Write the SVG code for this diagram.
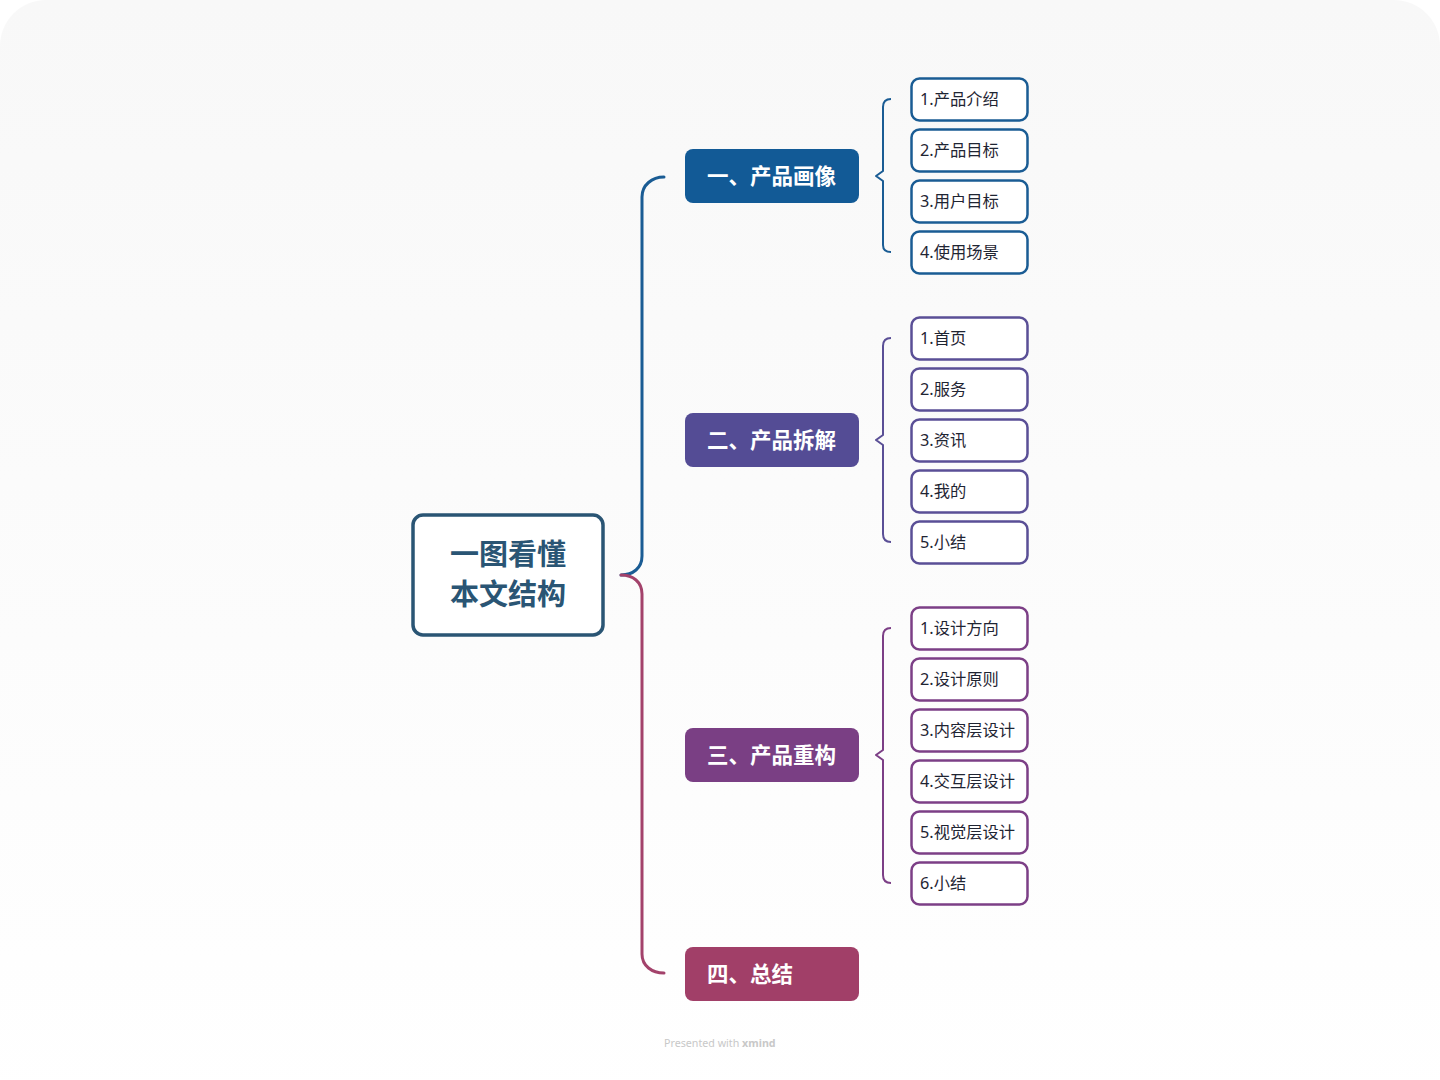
<svg xmlns="http://www.w3.org/2000/svg" width="1440" height="1080" viewBox="0 0 1440 1080">
<defs>
<linearGradient id="bg" x1="0" y1="0" x2="0" y2="1">
<stop offset="0" stop-color="#f8f8f8"/>
<stop offset="1" stop-color="#ffffff"/>
</linearGradient>
<style>
.cjk{font-family:"Noto Sans","Noto Sans CJK SC",sans-serif}
.root{fill:#ffffff;stroke:#2a5574;stroke-width:3.5}
.roott{font-size:29px;font-weight:700;fill:#2a5574}
.br{stroke:none}
.brt{font-size:21.5px;font-weight:700;fill:#ffffff}
.leaf{fill:#ffffff;stroke-width:2.5}
.leaft{font-size:16.3px;fill:#1f2533}
.con{fill:none;stroke-width:3;stroke-linecap:round}
.brk{fill:none;stroke-width:2;stroke-linejoin:round}
</style>
</defs>
<rect x="0" y="0" width="1440" height="1080" fill="#ffffff"/>
<rect x="0" y="0" width="1440" height="1120" rx="46" fill="url(#bg)"/>

<g id="connectors">
<path class="con" stroke="#1a5c94" d="M621,575 C633,575 642,568 642,556 L642,197 C642,185 652,177 664,177"/>
<path class="con" stroke="#a3426b" d="M621,575 C633,575 642,582 642,594 L642,954 C642,966 652,973 664,973"/>
<path class="brk" stroke="#1a5c94" d="M891,99 C886,99 883,102 883,107 L883,171 L876,176 L883,181 L883,245 C883,250 886,252 891,252"/>
<path class="brk" stroke="#5a4f96" d="M891,338 C886,338 883,341 883,346 L883,435 L876,440 L883,445 L883,534 C883,539 886,542 891,542"/>
<path class="brk" stroke="#7c3f86" d="M891,628 C886,628 883,631 883,636 L883,750 L876,755 L883,760 L883,875 C883,880 886,883 891,883"/>
</g>

<g id="root">
<rect class="root" x="413" y="515" width="190" height="120" rx="10"/>
<text class="cjk roott" x="508" y="565" text-anchor="middle">一图看懂</text>
<text class="cjk roott" x="508" y="605" text-anchor="middle">本文结构</text>
</g>

<g id="b1"><rect class="br" x="685" y="149" width="174" height="54" rx="8" fill="#125a96"/><text class="cjk brt" x="707" y="184">一、产品画像</text></g>
<g id="b2"><rect class="br" x="685" y="413" width="174" height="54" rx="8" fill="#544c95"/><text class="cjk brt" x="707" y="448">二、产品拆解</text></g>
<g id="b3"><rect class="br" x="685" y="728" width="174" height="54" rx="8" fill="#7a3f84"/><text class="cjk brt" x="707" y="763">三、产品重构</text></g>
<g id="b4"><rect class="br" x="685" y="947" width="174" height="54" rx="8" fill="#a13f68"/><text class="cjk brt" x="707" y="982">四、总结</text></g>

<g id="l1-1"><rect class="leaf" stroke="#1a5c94" x="911.5" y="78.5" width="116" height="42" rx="8"/><text class="cjk leaft" x="920" y="105">1.产品介绍</text></g>
<g id="l1-2"><rect class="leaf" stroke="#1a5c94" x="911.5" y="129.5" width="116" height="42" rx="8"/><text class="cjk leaft" x="920" y="156">2.产品目标</text></g>
<g id="l1-3"><rect class="leaf" stroke="#1a5c94" x="911.5" y="180.5" width="116" height="42" rx="8"/><text class="cjk leaft" x="920" y="207">3.用户目标</text></g>
<g id="l1-4"><rect class="leaf" stroke="#1a5c94" x="911.5" y="231.5" width="116" height="42" rx="8"/><text class="cjk leaft" x="920" y="258">4.使用场景</text></g>

<g id="l2-1"><rect class="leaf" stroke="#5a4f96" x="911.5" y="317.5" width="116" height="42" rx="8"/><text class="cjk leaft" x="920" y="344">1.首页</text></g>
<g id="l2-2"><rect class="leaf" stroke="#5a4f96" x="911.5" y="368.5" width="116" height="42" rx="8"/><text class="cjk leaft" x="920" y="395">2.服务</text></g>
<g id="l2-3"><rect class="leaf" stroke="#5a4f96" x="911.5" y="419.5" width="116" height="42" rx="8"/><text class="cjk leaft" x="920" y="446">3.资讯</text></g>
<g id="l2-4"><rect class="leaf" stroke="#5a4f96" x="911.5" y="470.5" width="116" height="42" rx="8"/><text class="cjk leaft" x="920" y="497">4.我的</text></g>
<g id="l2-5"><rect class="leaf" stroke="#5a4f96" x="911.5" y="521.5" width="116" height="42" rx="8"/><text class="cjk leaft" x="920" y="548">5.小结</text></g>

<g id="l3-1"><rect class="leaf" stroke="#7c3f86" x="911.5" y="607.5" width="116" height="42" rx="8"/><text class="cjk leaft" x="920" y="634">1.设计方向</text></g>
<g id="l3-2"><rect class="leaf" stroke="#7c3f86" x="911.5" y="658.5" width="116" height="42" rx="8"/><text class="cjk leaft" x="920" y="685">2.设计原则</text></g>
<g id="l3-3"><rect class="leaf" stroke="#7c3f86" x="911.5" y="709.5" width="116" height="42" rx="8"/><text class="cjk leaft" x="920" y="736">3.内容层设计</text></g>
<g id="l3-4"><rect class="leaf" stroke="#7c3f86" x="911.5" y="760.5" width="116" height="42" rx="8"/><text class="cjk leaft" x="920" y="787">4.交互层设计</text></g>
<g id="l3-5"><rect class="leaf" stroke="#7c3f86" x="911.5" y="811.5" width="116" height="42" rx="8"/><text class="cjk leaft" x="920" y="838">5.视觉层设计</text></g>
<g id="l3-6"><rect class="leaf" stroke="#7c3f86" x="911.5" y="862.5" width="116" height="42" rx="8"/><text class="cjk leaft" x="920" y="889">6.小结</text></g>

<text x="664" y="1047" font-family="'Noto Sans',sans-serif" font-size="10.7" fill="#c8c8c8">Presented with <tspan font-weight="700">xmind</tspan></text>
</svg>
